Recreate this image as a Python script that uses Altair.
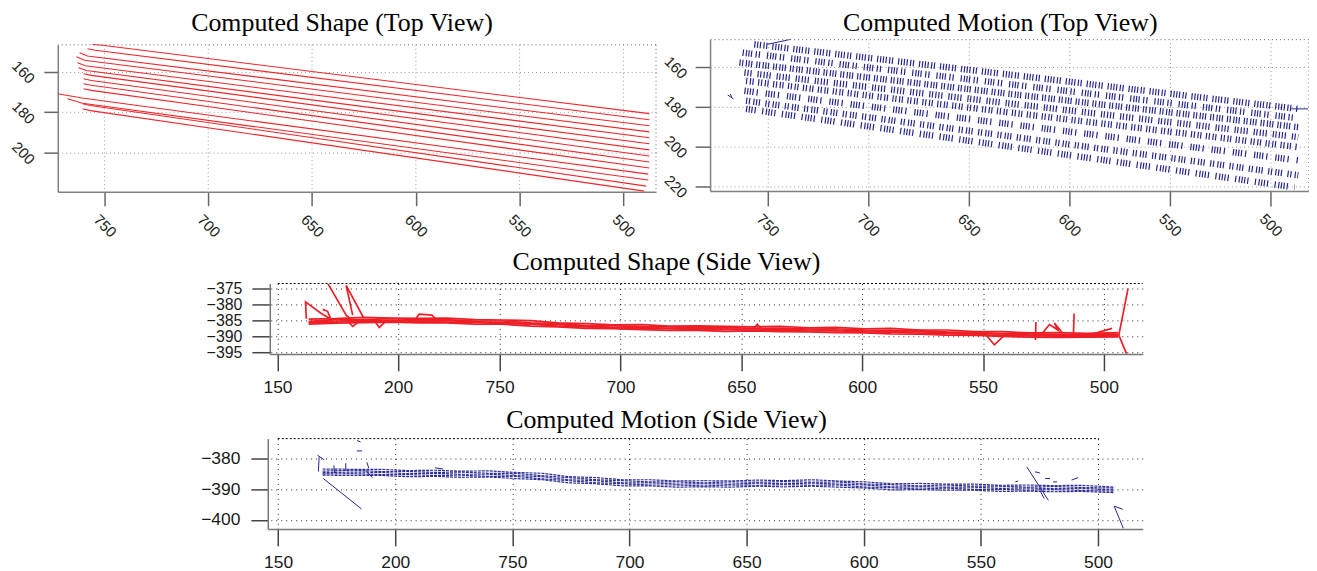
import altair as alt
import pandas as pd

# ---------------- data ----------------
# Computed Shape (Top View): 14 contours -> start, end of start hook, end
TS_X0 = [755.8, 758.2, 762.0, 763.5, 763.0, 762.5, 760.1, 760.1, 760.1, 760.1, 772.5, 767.8, 760.6, 760.6]
TS_Y0 = [146.5, 148.6, 150.6, 152.6, 155.6, 158.0, 161.0, 163.5, 165.9, 168.4, 170.9, 173.3, 175.8, 178.3]
TS_X1 = [752.0, 754.4, 758.2, 759.7, 759.2, 758.7, 756.3, 756.3, 756.3, 756.3, 760.8, 760.6, 756.8, 756.8]
TS_Y1 = [146.8, 149.4, 152.2, 154.3, 157.0, 159.4, 161.8, 164.3, 166.7, 169.2, 173.0, 175.6, 176.7, 179.2]
TS_X2 = [487.5, 487.5, 487.5, 487.5, 487.5, 487.5, 487.5, 487.5, 487.5, 487.5, 488.0, 488.0, 489.0, 490.0]
TS_Y2 = [180.7, 183.7, 186.7, 189.7, 192.6, 195.6, 198.6, 201.6, 204.6, 207.6, 210.6, 213.5, 216.5, 219.0]

# Computed Motion (Top View): 8 rows of motion ticks, start and end
TM_X0 = [756.6, 762.4, 764.0, 761.5, 760.7, 761.5, 760.7, 760.7]
TM_Y0 = [148.5, 152.7, 157.7, 162.7, 166.9, 171.9, 176.9, 181.0]
TM_X1 = [486.2, 486.2, 486.2, 486.2, 486.2, 486.2, 486.2, 488.0]
TM_Y1 = [181.0, 185.7, 190.2, 195.2, 200.2, 206.9, 214.4, 220.5]
TM_EXTRA_X = [[750.0, 738.6], [489.6, 481.2], [769.8, 767.0], [768.5, 767.8]]
TM_EXTRA_Y = [[148.5, 146.0], [181.0, 181.0], [174.0, 176.0], [173.5, 175.3]]

# Computed Shape (Side View)
RED_X = [829, 818, 806, 795, 783, 772, 760, 749, 737, 726, 714, 703, 691, 680, 668,
         657, 645, 634, 622, 611, 599, 588, 576, 565, 553, 542, 530, 519, 507, 494]
RED_A = [-384.6, -384.5, -384.1, -384.3, -384.4, -384.3, -384.8, -384.9, -385.1, -385.8, -386.0, -386.4, -386.3, -386.8, -386.7,
         -386.9, -387.0, -386.9, -387.3, -387.2, -387.6, -387.5, -388.0, -388.0, -388.5, -388.5, -388.9, -388.8, -389.0, -388.8]
RED_B = [-385.3, -384.8, -384.8, -384.5, -384.8, -384.8, -385.2, -385.2, -385.8, -386.0, -386.6, -386.6, -387.0, -387.0, -387.3,
         -387.2, -387.5, -387.4, -387.7, -387.6, -388.0, -388.1, -388.2, -388.6, -388.7, -389.1, -389.1, -389.4, -389.2, -389.3]
RED_C = [-385.6, -385.2, -385.1, -385.0, -385.2, -385.1, -385.5, -385.7, -386.1, -386.3, -386.9, -387.1, -387.1, -387.5, -387.4,
         -387.7, -387.6, -387.9, -387.8, -388.1, -388.2, -388.5, -388.6, -388.8, -389.2, -389.2, -389.6, -389.5, -389.7, -389.5]
RED_D = [-385.8, -385.6, -385.3, -385.4, -385.2, -385.6, -385.6, -386.0, -386.2, -386.8, -387.0, -387.4, -387.6, -387.6, -387.9,
         -387.8, -388.1, -388.0, -388.3, -388.2, -388.6, -388.7, -389.0, -389.1, -389.4, -389.7, -389.8, -389.9, -390.0, -389.8]
RED_E = [-386.2, -385.9, -385.7, -385.6, -385.8, -385.8, -386.2, -386.2, -386.8, -387.0, -387.5, -387.6, -387.9, -388.1, -388.1,
         -388.4, -388.3, -388.5, -388.6, -388.8, -388.9, -389.2, -389.3, -389.6, -389.7, -390.0, -390.2, -390.3, -390.2, -390.1]
RED_SPIKE_X = [[830.0, 830.3, 823.8, 819.0], [821.0, 813.5, 811.0], [810.8, 813.5, 806.3], [823.2, 821.2, 819.8],
               [813.0, 810.8, 808.0], [802.0, 799.8, 797.0], [785.0, 783.3, 778.0, 776.0], [645.0, 643.4, 641.5],
               [549.0, 545.3, 541.0], [528.1, 528.3], [526.0, 522.5, 519.0, 520.5, 517.0], [512.3, 512.6],
               [506.3, 496.6], [490.0, 493.8, 490.6]]
RED_SPIKE_Y = [[-384.5, -379.3, -382.9, -385.0], [-373.7, -383.4, -385.0], [-383.4, -374.2, -384.2], [-381.6, -382.2, -384.6],
               [-385.2, -386.9, -385.3], [-385.0, -387.2, -385.2], [-384.8, -383.1, -383.4, -384.9], [-387.6, -386.2, -387.8],
               [-389.3, -392.6, -389.5], [-385.5, -391.1], [-389.5, -386.3, -388.0, -385.8, -389.0], [-382.9, -389.9],
               [-389.6, -387.5], [-375.2, -389.6, -395.4]]

# Computed Motion (Side View)
BLUE_X = [831, 818, 806, 795, 783, 772, 760, 749, 737, 726, 714, 703, 691, 680, 668,
          657, 645, 634, 622, 611, 599, 588, 576, 565, 553, 542, 530, 519, 507, 493]
BLUE_A = [-383.4, -383.5, -383.5, -383.9, -383.8, -384.1, -384.0, -384.5, -384.8, -385.9, -386.2, -386.9, -386.9, -387.3, -387.2,
          -387.3, -387.0, -387.2, -386.9, -387.3, -387.6, -388.2, -388.1, -388.3, -388.3, -388.7, -388.6, -388.8, -388.7, -389.3]
BLUE_B = [-384.1, -383.8, -384.2, -384.2, -384.5, -384.4, -384.8, -384.8, -385.6, -386.2, -386.9, -387.2, -387.6, -387.6, -387.9,
          -387.6, -387.7, -387.5, -387.7, -387.6, -388.3, -388.5, -388.9, -388.6, -389.0, -389.0, -389.3, -389.1, -389.4, -389.6]
BLUE_C = [-384.6, -384.4, -384.5, -384.9, -384.8, -385.1, -385.1, -385.5, -385.9, -386.9, -387.2, -387.9, -387.9, -388.3, -388.2,
          -388.3, -388.0, -388.2, -388.0, -388.3, -388.6, -389.2, -389.2, -389.3, -389.3, -389.7, -389.6, -389.8, -389.7, -390.2]
BLUE_D = [-385.0, -384.9, -385.2, -385.2, -385.5, -385.4, -385.8, -385.8, -386.6, -387.2, -387.9, -388.2, -388.6, -388.6, -388.9,
          -388.6, -388.7, -388.5, -388.7, -388.6, -389.3, -389.5, -389.9, -389.6, -390.0, -390.0, -390.3, -390.1, -390.4, -390.6]
BLUE_E = [-385.4, -385.5, -385.5, -385.9, -385.8, -386.1, -386.0, -386.5, -386.9, -387.9, -388.2, -388.9, -388.9, -389.3, -389.2,
          -389.3, -389.0, -389.2, -389.0, -389.3, -389.6, -390.2, -390.1, -390.3, -390.3, -390.7, -390.6, -390.8, -390.7, -391.1]
BLUE_SPIKE_X = [[830.7, 814.4], [833.2, 830.3], [832.5, 832.8], [816.3, 814.8], [816.4, 814.2], [826.2, 825.9],
                [821.1, 821.1], [812.1, 811.3], [812.6, 809.8], [530.4, 521.2], [493.1, 489.2], [493.1, 489.5],
                [526.9, 524.8], [522.6, 520.5], [519.2, 517.5], [535.3, 534.1], [511.3, 508.5], [524.5, 523.0],
                [783.0, 779.5]]
BLUE_SPIKE_Y = [[-386.5, -396.4], [-378.9, -380.4], [-379.5, -384.2], [-374.1, -374.6], [-377.5, -377.5], [-382.2, -384.7],
                [-381.5, -384.0], [-381.2, -383.1], [-383.8, -386.2], [-382.7, -393.6], [-395.5, -402.7], [-395.5, -396.5],
                [-384.3, -384.7], [-386.5, -386.5], [-387.6, -387.6], [-387.6, -387.3], [-387.0, -386.2], [-390.8, -393.0],
                [-383.0, -383.4]]

TOP_TICKS_X = [750, 700, 650, 600, 550, 500]
TL_TICKS_Y = [160, 180, 200]
TR_TICKS_Y = [160, 180, 200, 220]
MID_TICKS_X = [841.9, 792.0, 750, 700, 650, 600, 550, 500]
MID_TICKS_Y = [-375, -380, -385, -390, -395]
BOT_TICKS_X = [850, 800, 750, 700, 650, 600, 550, 500]
BOT_TICKS_Y = [-380, -390, -400]

# ---------------- tables ----------------
def paths(xs_list, ys_list, offset=0):
    rows = []
    for k, (xs, ys) in enumerate(zip(xs_list, ys_list)):
        for i, (x, y) in enumerate(zip(xs, ys)):
            rows.append({"g": k + offset, "i": i, "x": x, "y": y})
    return rows

df_ts = pd.DataFrame(paths([[a, b, c] for a, b, c in zip(TS_X0, TS_X1, TS_X2)],
                           [[a, b, c] for a, b, c in zip(TS_Y0, TS_Y1, TS_Y2)]))
df_tm = pd.DataFrame(paths([[a, b] for a, b in zip(TM_X0, TM_X1)],
                           [[a, b] for a, b in zip(TM_Y0, TM_Y1)]))
df_tm_extra = pd.DataFrame(paths(TM_EXTRA_X, TM_EXTRA_Y))
df_red = pd.DataFrame(paths([RED_X] * 5, [RED_A, RED_B, RED_C, RED_D, RED_E]) +
                      paths(RED_SPIKE_X, RED_SPIKE_Y, offset=10))
df_blue = pd.DataFrame(paths([BLUE_X] * 5, [BLUE_A, BLUE_B, BLUE_C, BLUE_D, BLUE_E]))
df_blue_sp = pd.DataFrame(paths(BLUE_SPIKE_X, BLUE_SPIKE_Y))
df_top_ticks = pd.DataFrame({"x": TOP_TICKS_X})
one = pd.DataFrame({"v": [0]})

# ---------------- styling ----------------
SANS = "Liberation Sans"
SERIF = "Liberation Serif"
RED = "#f0262b"
NAVY = "#24248e"
# irregular tick spacing of the motion rows
ROW_DASHES = [
    [1.2, 1.6, 1.2, 1.6, 1.2, 2.4, 1.2, 1.6, 1.2, 5.0, 1.2, 1.8],
    [1.2, 2.0, 1.2, 1.4, 1.2, 1.4, 1.2, 3.5, 1.2, 2.0, 1.2, 7.0],
    [1.2, 1.5, 1.2, 2.5, 1.2, 1.5, 1.2, 1.5, 1.2, 4.0],
    [1.2, 1.8, 1.2, 1.8, 1.2, 6.0, 1.2, 1.5, 1.2, 2.2],
    [1.2, 2.6, 1.2, 1.5, 1.2, 4.5, 1.2, 1.7],
    [1.2, 1.5, 1.2, 1.5, 1.2, 1.5, 1.2, 3.0, 1.2, 8.0],
    [1.2, 1.7, 1.2, 3.2, 1.2, 1.6, 1.2, 1.6, 1.2, 5.5],
    [1.2, 1.5, 1.2, 1.5, 1.2, 2.0, 1.2, 6.5, 1.2, 2.5],
]


def ttl(text, dx, offset):
    return alt.TitleParams(text, font=SERIF, fontSize=26, fontWeight="normal", color="#000",
                           anchor="middle", dx=dx, offset=offset)


top_ax = dict(domainColor="#808080", domainWidth=1.5, tickColor="#666666", tickWidth=1.5,
              labelFont=SANS, labelFontSize=15, labelColor="#222222", labelAngle=45,
              labelAlign="center", labelBaseline="middle", gridColor="#9a9a9a",
              gridDash=[1, 3], gridWidth=1, title=None, labelFlush=False, labelOverlap=False)
side_ax = dict(domainColor="#777777", domainWidth=1.5, tickColor="#444444", tickWidth=1.5,
               labelFont=SANS, labelColor="#1a1a1a", grid=True, gridColor="#000000",
               gridDash=[1, 4], gridWidth=1, gridOpacity=0.85, title=None, labelFlush=False,
               labelOverlap=False)
dotted_box = alt.ViewBackground(stroke="#666666", strokeDash=[1, 3], strokeWidth=1)


def spacer(w, h):
    return alt.Chart(one).mark_point(opacity=0).encode(
        x=alt.X("v:Q", axis=None), y=alt.Y("v:Q", axis=None)).properties(width=w, height=h)


# --- top-left (plot box starts 5.7 px below the top-right one)
TL_W, TL_H, TL_OFF = 601, 153.3, 5.7
tl_x = alt.X("x:Q", scale=alt.Scale(domain=[484.3, 772.5], reverse=True, nice=False, zero=False),
             axis=alt.Axis(values=TOP_TICKS_X, tickSize=14, labelPadding=20, grid=False, **top_ax))
tl_y = alt.Y("y:Q", scale=alt.Scale(domain=[219.3, 146.7], range=[TL_H, TL_OFF], nice=False, zero=False),
             axis=alt.Axis(values=TL_TICKS_Y, tickSize=14, labelPadding=21, grid=True, **top_ax))
tl_lines = alt.Chart(df_ts).mark_line(color=RED, strokeWidth=1.1, clip=True).encode(
    x=tl_x, y=tl_y, detail="g:N", order="i:Q")
tl_grid = alt.Chart(df_top_ticks).mark_rule(color="#9a9a9a", strokeDash=[1, 3], strokeWidth=1).encode(
    x=alt.X("x:Q"), y=alt.value(TL_OFF), y2=alt.value(TL_H))
tl_top = alt.Chart(one).mark_rule(color="#666666", strokeDash=[1, 3], strokeWidth=1).encode(
    y=alt.value(TL_OFF), x=alt.value(0), x2=alt.value(TL_W))
tl_right = alt.Chart(one).mark_rule(color="#666666", strokeDash=[1, 3], strokeWidth=1).encode(
    x=alt.value(TL_W), y=alt.value(TL_OFF), y2=alt.value(TL_H))
tl = alt.layer(tl_grid, tl_lines, tl_top, tl_right).properties(
    width=TL_W, height=TL_H, title=ttl("Computed Shape (Top View)", -15, 3))

# --- top-right
tr_x = alt.X("x:Q", scale=alt.Scale(domain=[481.2, 778.6], reverse=True, nice=False, zero=False),
             axis=alt.Axis(values=TOP_TICKS_X, tickSize=15, labelPadding=19, grid=True, **top_ax))
tr_y = alt.Y("y:Q", scale=alt.Scale(domain=[145.9, 222.3], reverse=True, nice=False, zero=False),
             axis=alt.Axis(values=TR_TICKS_Y, tickSize=15, labelPadding=20, grid=True, **top_ax))
tr_rows = alt.Chart(df_tm).mark_line(color=NAVY, strokeWidth=6.5, clip=True).encode(
    x=tr_x, y=tr_y, detail="g:N", order="i:Q",
    strokeDash=alt.StrokeDash("g:N", scale=alt.Scale(domain=list(range(8)), range=ROW_DASHES), legend=None))
tr_extra = alt.Chart(df_tm_extra).mark_line(color=NAVY, strokeWidth=1, clip=True).encode(
    x=tr_x, y=tr_y, detail="g:N", order="i:Q")
tr = alt.layer(tr_rows, tr_extra).properties(
    width=601, height=152.5, title=ttl("Computed Motion (Top View)", -9, 3), view=dotted_box)

# --- middle (shape side view)
MID_W, MID_H = 877, 70.7
mid_x = alt.X("x:Q", scale=alt.Scale(domain=[483.9, 845.1], reverse=True, nice=False, zero=False),
              axis=alt.Axis(values=MID_TICKS_X, tickSize=17, labelPadding=8, labelFontSize=17.5,
                            labelExpr="datum.value > 830 ? '150' : (datum.value > 780 ? '200' : format(datum.value, '.0f'))",
                            **side_ax))
mid_y = alt.Y("y:Q", scale=alt.Scale(domain=[-395.4, -373.6], nice=False, zero=False),
              axis=alt.Axis(values=MID_TICKS_Y, tickSize=18, labelPadding=10, labelFontSize=16, **side_ax))
mid_lines = alt.Chart(df_red).mark_line(color="#ee1f26", strokeWidth=1.7, clip=True).encode(
    x=mid_x, y=mid_y, detail="g:N", order="i:Q")
mid_top = alt.Chart(one).mark_rule(color="#000", strokeDash=[2, 2], strokeWidth=1).encode(
    y=alt.value(0), x=alt.value(8), x2=alt.value(MID_W))
mid = alt.layer(mid_lines, mid_top).properties(
    width=MID_W, height=MID_H, title=ttl("Computed Shape (Side View)", -40, 5))

# --- bottom (motion side view)
BOT_W, BOT_H = 879, 90.7
bot_x = alt.X("x:Q", scale=alt.Scale(domain=[480.9, 854.4], reverse=True, nice=False, zero=False),
              axis=alt.Axis(values=BOT_TICKS_X, tickSize=17, labelPadding=8, labelFontSize=17.5,
                            labelExpr="datum.value > 830 ? '150' : (datum.value > 780 ? '200' : format(datum.value, '.0f'))",
                            **side_ax))
bot_y = alt.Y("y:Q", scale=alt.Scale(domain=[-402.9, -373.5], nice=False, zero=False),
              axis=alt.Axis(values=BOT_TICKS_Y, tickSize=17, labelPadding=11, labelFontSize=17.5, **side_ax))
bot_band = alt.Chart(df_blue).mark_line(color=NAVY, strokeWidth=1.2, strokeDash=[3, 1], opacity=0.95, clip=True).encode(
    x=bot_x, y=bot_y, detail="g:N", order="i:Q")
bot_sp = alt.Chart(df_blue_sp).mark_line(color=NAVY, strokeWidth=1, clip=True).encode(
    x=bot_x, y=bot_y, detail="g:N", order="i:Q")
bot_top = alt.Chart(one).mark_rule(color="#000", strokeDash=[2, 2], strokeWidth=1).encode(
    y=alt.value(0), x=alt.value(10), x2=alt.value(835))
bot = alt.layer(bot_band, bot_sp, bot_top).properties(
    width=BOT_W, height=BOT_H, title=ttl("Computed Motion (Side View)", -39, 5))

row1 = alt.hconcat(tl, tr, spacing=54.3, bounds="flush")
row2 = alt.hconcat(spacer(212.7, MID_H), mid, spacing=0, bounds="flush")
row3 = alt.hconcat(spacer(211, BOT_H), bot, spacing=0, bounds="flush")

chart = alt.vconcat(row1, alt.vconcat(row2, row3, spacing=9.8), spacing=8.5).properties(
    padding={"left": 0, "top": 0, "right": 0, "bottom": 0}
).configure_view(strokeWidth=0)

chart.save("out.html", embed_options={"renderer": "svg", "actions": False})
